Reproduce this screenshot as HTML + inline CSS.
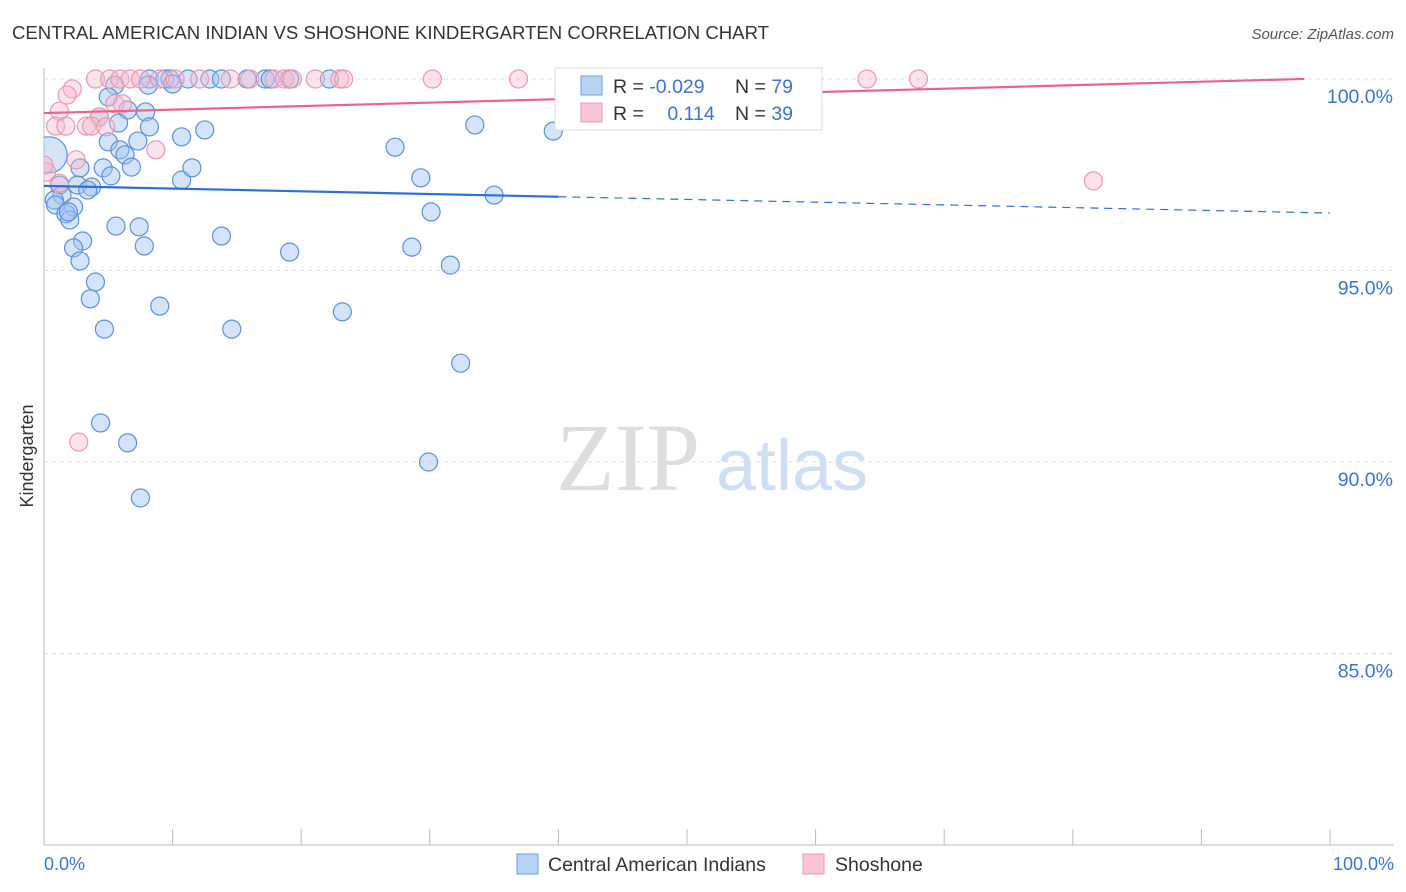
<!DOCTYPE html>
<html><head><meta charset="utf-8"><style>
body{margin:0;background:#fff;font-family:"Liberation Sans",sans-serif}
svg{display:block}
</style></head><body>
<svg id="chart" width="1406" height="892">
<defs><clipPath id="plotclip"><rect x="44" y="60" width="1360" height="785"/></clipPath></defs>
<text x="12" y="39" font-size="18" fill="#333" textLength="757" lengthAdjust="spacingAndGlyphs">CENTRAL AMERICAN INDIAN VS SHOSHONE KINDERGARTEN CORRELATION CHART</text>
<text x="1394" y="39" font-size="15" fill="#555" font-style="italic" text-anchor="end">Source: ZipAtlas.com</text>
<text x="556" y="490" font-size="96" fill="#ddd" font-family="Liberation Serif,serif">ZIP</text>
<text x="716" y="490" font-size="72" fill="#cfdff3">atlas</text>
<text transform="translate(33,456) rotate(-90)" font-size="18" fill="#333" text-anchor="middle">Kindergarten</text>
<g id="grid"></g><g id="marks" clip-path="url(#plotclip)"></g>
<g>
<rect x="555" y="68" width="267" height="62" fill="#fff" stroke="#ddd"/>
<rect x="581" y="76" width="21" height="19" fill="#b8d3f3" stroke="#6e9fe0"/>
<rect x="581" y="103" width="21" height="19" fill="#f9c6d5" stroke="#ec96b0"/>
<text x="613" y="93" font-size="19.5" fill="#333">R = <tspan fill="#3a74d0">-0.029</tspan></text>
<text x="735" y="93" font-size="19.5" fill="#333">N = <tspan fill="#3a74d0">79</tspan></text>
<text x="613" y="120" font-size="19.5" fill="#333">R = <tspan fill="#3a74d0" dx="18">0.114</tspan></text>
<text x="735" y="120" font-size="19.5" fill="#333">N = <tspan fill="#3a74d0">39</tspan></text>
</g>
<g>
<rect x="517" y="854" width="21" height="20" fill="#b8d3f3" stroke="#6e9fe0"/>
<text x="548" y="871" font-size="19.5" fill="#333">Central American Indians</text>
<rect x="803" y="854" width="21" height="20" fill="#f9c6d5" stroke="#ec96b0"/>
<text x="835" y="871" font-size="19.5" fill="#333">Shoshone</text>
</g>
<text x="44" y="870" font-size="18" fill="#3a74d0">0.0%</text>
<text x="1394" y="870" font-size="18" fill="#3a74d0" text-anchor="end">100.0%</text>
</svg>
<script>
const yTicks=[100,95,90,85];
const yTickLabels=["100.0%","95.0%","90.0%","85.0%"];
const blueX=[0.4,8.2,9.4,9.8,11.2,12.9,13.8,15.8,17.2,17.6,19.1,22.2,8.1,10.0,5.5,5.0,6.5,7.9,4.3,5.8,8.2,10.7,12.5,5.0,7.3,5.9,6.3,6.8,4.6,2.8,5.2,10.7,11.5,2.6,3.7,3.4,1.2,1.4,0.8,0.9,2.3,1.7,2.0,1.9,5.6,7.4,3.0,2.3,7.8,2.8,13.8,19.1,4.0,3.6,9.0,4.7,14.6,23.2,27.3,29.3,30.1,28.6,31.6,32.4,33.5,35.0,39.6,4.4,6.5,29.9,7.5];
const blueY=[98.02,100,100,100,100,100,100,100,100,100,100,100,99.84,99.87,99.84,99.53,99.19,99.14,99.01,98.85,98.75,98.49,98.67,98.36,98.38,98.15,98.02,97.70,97.68,97.68,97.47,97.36,97.68,97.23,97.18,97.10,97.23,96.97,96.84,96.71,96.66,96.48,96.32,96.53,96.16,96.14,95.77,95.59,95.64,95.25,95.90,95.48,94.70,94.26,94.07,93.47,93.47,93.92,98.22,97.42,96.53,95.61,95.14,92.58,98.80,96.97,98.64,91.02,90.50,90.00,89.06];
const pinkX=[4.0,5.1,5.9,6.7,7.5,9.0,10.2,12.1,14.5,16.0,17.9,18.7,19.3,21.1,23.0,23.3,30.2,36.9,64.0,68.0,2.2,1.8,5.5,1.2,4.3,0.9,1.7,3.3,3.7,4.8,8.7,2.5,0.2,0,81.6,2.7,6.1,1.2];
const pinkY=[100,100,100,100,100,100,100,100,100,100,100,100,100,100,100,100,100,100,100,100,99.74,99.58,99.35,99.16,99.01,98.77,98.77,98.77,98.77,98.75,98.15,97.89,97.57,97.75,97.34,90.52,99.35,97.28];
const blueTrend=[97.21,96.50];
const pinkTrend=[99.11,100.02];
const X0=44,X1=1330;
const xs=v=>X0+(X1-X0)*v/100;
const ys=v=>79+(100-v)*38.3;
const NS="http://www.w3.org/2000/svg";
const grid=document.getElementById('grid'),marks=document.getElementById('marks');
function mk(p,tag,a){const e=document.createElementNS(NS,tag);for(const k in a)e.setAttribute(k,a[k]);p.appendChild(e);return e;}
const ax=mk(grid,'line',{x1:44,y1:68,x2:44,y2:845,stroke:'#bbb'});


const bx=mk(grid,'line',{x1:44,y1:845,x2:1394,y2:845,stroke:'#bbb'});


for(let i=0;i<=10;i++){const t=mk(grid,'line',{x1:xs(i*10),y1:829,x2:xs(i*10),y2:845,stroke:'#bbb'});

}
yTicks.forEach((v,i)=>{const g=mk(grid,'line',{x1:44,y1:ys(v),x2:1394,y2:ys(v),stroke:'#ddd','stroke-dasharray':'4 4'});


const t=mk(grid,'text',{x:1393,y:ys(v)+24,'font-size':19.5,fill:'#3a74d0','text-anchor':'end'});t.textContent=yTickLabels[i];

});
blueX.forEach((x,i)=>{const c=mk(marks,'circle',{cx:xs(x),cy:ys(blueY[i]),r:i===0?18:9,fill:'rgba(160,195,240,0.45)',stroke:'#5b90dc','stroke-width':1.2});

});
pinkX.forEach((x,i)=>{const c=mk(marks,'circle',{cx:xs(x),cy:ys(pinkY[i]),r:9,fill:'rgba(248,185,205,0.4)',stroke:'#ec96b0','stroke-width':1.2});

});
const bm=blueTrend[0]+(blueTrend[1]-blueTrend[0])*0.4;
const l1=mk(marks,'line',{x1:xs(0),y1:ys(blueTrend[0]),x2:xs(40),y2:ys(bm),stroke:'#2d6fd6','stroke-width':2.2});


const l2=mk(marks,'line',{x1:xs(40),y1:ys(bm),x2:xs(100),y2:ys(blueTrend[1]),stroke:'#2d6fd6','stroke-width':1.2,'stroke-dasharray':'8 6'});


const l3=mk(marks,'line',{x1:xs(0),y1:ys(pinkTrend[0]),x2:xs(98),y2:ys(pinkTrend[0]+(pinkTrend[1]-pinkTrend[0])*0.98),stroke:'#e8648c','stroke-width':2.2});


</script>
</body></html>
